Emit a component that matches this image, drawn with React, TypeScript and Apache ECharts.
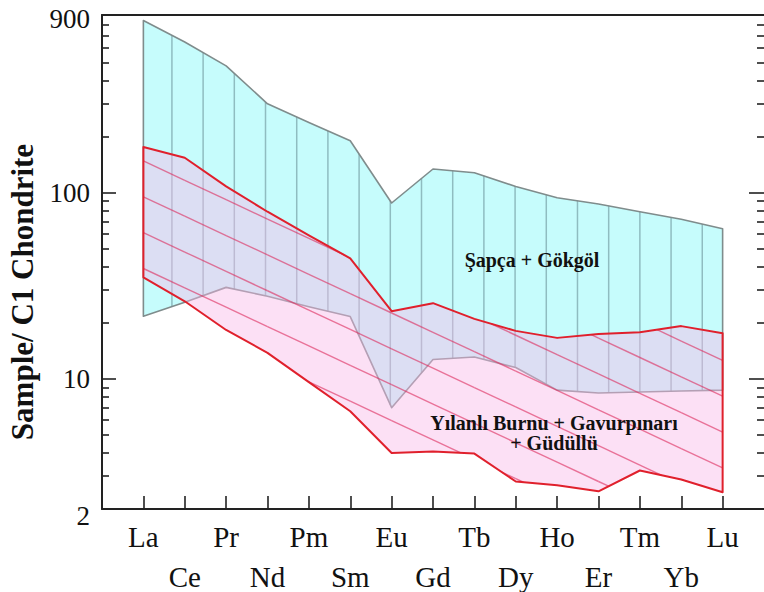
import React, { useEffect, useRef } from 'react';
import * as echarts from 'echarts';

// ---- data (chondrite-normalised REE envelopes) ----
const ELEMENTS = ['La', 'Ce', 'Pr', 'Nd', 'Pm', 'Sm', 'Eu', 'Gd', 'Tb', 'Dy', 'Ho', 'Er', 'Tm', 'Yb', 'Lu'];
const SAPCA_UPPER = [840, 645, 480, 300, 238, 190, 88, 134, 128, 108, 94, 87, 79, 72, 64];
const SAPCA_LOWER = [21.7, 25.8, 31, 27.8, 24.4, 21.6, 7.0, 12.7, 13.1, 11.5, 8.7, 8.4, 8.5, 8.6, 8.7];
const YILANLI_UPPER = [176, 154, 108, 79, 59, 44.4, 23.1, 25.5, 21.0, 18.1, 16.6, 17.4, 17.8, 19.2, 17.6];
const YILANLI_LOWER = [35.1, 26.1, 18.3, 13.8, 9.6, 6.7, 4.0, 4.07, 3.97, 2.81, 2.68, 2.49, 3.22, 2.88, 2.46];
const Y_LABELS = [2, 10, 100, 900];
const Y_MAJOR = [10, 100];
const Y_MINOR = [3, 4, 5, 6, 7, 8, 9, 20, 30, 40, 50, 60, 70, 80, 90, 200, 300, 400, 500, 600, 700, 800];
const X_TICKS = ELEMENTS.map((_, i) => i);

const FONT = 'Liberation Serif';

type Pt = number[];

function bandSeries(upper: number[], lower: number[], cfg: any) {
  return {
    type: 'custom',
    coordinateSystem: 'cartesian2d',
    xAxisIndex: 0,
    yAxisIndex: 0,
    silent: true,
    z: cfg.z,
    data: [[0, upper[0]]],
    renderItem: (params: any, api: any) => {
      const U: Pt[] = upper.map((v, i) => api.coord([i, v]));
      const L: Pt[] = lower.map((v, i) => api.coord([i, v]));
      const poly = [...U, ...L.slice().reverse()];
      const children: any[] = [];
      children.push({ type: 'polygon', shape: { points: poly }, style: { fill: cfg.fill }, z2: 0 });
      const n = U.length;
      if (cfg.hatch === 'vertical') {
        for (let u = cfg.vStart; u < n - 1; u += cfg.vStep) {
          const i = Math.floor(u);
          const t = u - i;
          const x = U[i][0] + t * (U[i + 1][0] - U[i][0]);
          const yU = U[i][1] + t * (U[i + 1][1] - U[i][1]);
          const yL = L[i][1] + t * (L[i + 1][1] - L[i][1]);
          children.push({
            type: 'line',
            shape: { x1: x, y1: yU, x2: x, y2: yL },
            style: { stroke: cfg.hatchColor, lineWidth: cfg.hatchWidth },
            z2: 1,
          });
        }
      } else if (cfg.hatch === 'diagonal') {
        const decPx = api.coord([0, 10])[1] - api.coord([0, 100])[1];
        const catPx = U[1][0] - U[0][0];
        const x0 = U[0][0];
        const anchorY = api.coord([0, cfg.dAnchor])[1];
        const slope = (cfg.dSlopeDec * decPx) / catPx;
        const spacing = cfg.dSpacingDec * decPx;
        for (let k = -25; k <= 25; k++) {
          const a = anchorY + k * spacing;
          const ly = (x: number) => a + slope * (x - x0);
          for (let i = 0; i < n - 1; i++) {
            const xa = U[i][0];
            const xb = U[i + 1][0];
            const la = ly(xa);
            const lb = ly(xb);
            let t0 = 0;
            let t1 = 1;
            const cons = (ga: number, gb: number) => {
              if (ga >= 0 && gb >= 0) return;
              if (ga < 0 && gb < 0) { t0 = 1; t1 = 0; return; }
              const ts = ga / (ga - gb);
              if (ga < 0) t0 = Math.max(t0, ts);
              else t1 = Math.min(t1, ts);
            };
            cons(la - U[i][1], lb - U[i + 1][1]);
            cons(L[i][1] - la, L[i + 1][1] - lb);
            if (t1 - t0 > 1e-6) {
              const xs = xa + t0 * (xb - xa);
              const xe = xa + t1 * (xb - xa);
              children.push({
                type: 'line',
                shape: { x1: xs, y1: ly(xs), x2: xe, y2: ly(xe) },
                style: { stroke: cfg.hatchColor, lineWidth: cfg.hatchWidth },
                z2: 1,
              });
            }
          }
        }
      }
      children.push({
        type: 'polygon',
        shape: { points: poly },
        style: { fill: 'none', stroke: cfg.stroke, lineWidth: cfg.strokeWidth, lineJoin: 'round' },
        z2: 2,
      });
      return { type: 'group', children };
    },
  };
}

function yAxisDef(position: string, ticks: number[], len: number, labels: boolean, line: boolean) {
  return {
    type: 'log',
    logBase: 10,
    min: 2,
    max: 900,
    position,
    axisLine: { show: line, onZero: false, lineStyle: { color: '#222', width: 2 } },
    axisTick: { show: true, inside: true, length: len, customValues: ticks, lineStyle: { color: '#222', width: 1.6 } },
    minorTick: { show: false },
    splitLine: { show: false },
    axisLabel: labels
      ? {
          show: true,
          customValues: Y_LABELS,
          margin: 12,
          formatter: (v: number) => {
            const r = Math.round(v);
            if (r === 2) return '{lo|2}';
            if (r === 900) return '{hi|900}';
            return String(r);
          },
          fontFamily: FONT,
          fontSize: 27,
          color: '#111',
          rich: {
            lo: { fontFamily: FONT, fontSize: 27, color: '#111', padding: [14, 0, 0, 0] },
            hi: { fontFamily: FONT, fontSize: 27, color: '#111', padding: [8, 0, 0, 0] },
          },
        }
      : { show: false },
  };
}

export default function App() {
  const ref = useRef<HTMLDivElement>(null);
  useEffect(() => {
    if (!ref.current) return;
    const chart = echarts.init(ref.current, undefined, { renderer: 'svg' });
    const option: any = {
      animation: false,
      backgroundColor: '#ffffff',
      grid: { left: 102, right: 0, top: 15, bottom: 83, containLabel: false, outerBoundsMode: 'none' },
      xAxis: [
        {
          type: 'value',
          min: -1,
          max: 15,
          position: 'bottom',
          axisLine: { show: true, onZero: false, lineStyle: { color: '#222', width: 2 } },
          axisTick: { show: true, inside: true, length: 13, customValues: X_TICKS, lineStyle: { color: '#222', width: 1.6 } },
          splitLine: { show: false },
          axisLabel: {
            show: true,
            customValues: X_TICKS,
            margin: 8,
            fontFamily: FONT,
            fontSize: 29,
            lineHeight: 40,
            color: '#111',
            formatter: (v: number) => {
              const i = Math.round(v);
              const name = ELEMENTS[i] ?? '';
              return i % 2 === 1 ? '\n' + name : name;
            },
          },
        },
        {
          type: 'value',
          min: -1,
          max: 15,
          position: 'top',
          axisLine: { show: true, onZero: false, lineStyle: { color: '#222', width: 2 } },
          axisTick: { show: false },
          axisLabel: { show: false },
          splitLine: { show: false },
        },
      ],
      yAxis: [
        yAxisDef('left', Y_MAJOR, 14, true, true),
        yAxisDef('left', Y_MINOR, 7, false, false),
        yAxisDef('right', Y_MAJOR, 15, false, false),
        yAxisDef('right', Y_MINOR, 7, false, false),
      ],
      series: [
        bandSeries(SAPCA_UPPER, SAPCA_LOWER, {
          z: 2,
          fill: '#c6fcfc',
          stroke: '#7f8c8c',
          strokeWidth: 1.6,
          hatch: 'vertical',
          hatchColor: '#8fbcc0',
          hatchWidth: 1.5,
          vStart: 0.69,
          vStep: 0.754,
        }),
        bandSeries(YILANLI_UPPER, YILANLI_LOWER, {
          z: 3,
          fill: 'rgba(248,185,232,0.44)',
          stroke: '#e0202c',
          strokeWidth: 2,
          hatch: 'diagonal',
          hatchColor: 'rgba(220,40,90,0.6)',
          hatchWidth: 1.4,
          dAnchor: 148,
          dSlopeDec: 0.104,
          dSpacingDec: 0.1925,
        }),
      ],
      graphic: [
        {
          type: 'text',
          x: 22,
          y: 292,
          rotation: Math.PI / 2,
          z: 10,
          style: {
            text: 'Sample/ C1 Chondrite',
            fontFamily: FONT,
            fontWeight: 'bold',
            fontSize: 31,
            fill: '#111',
            align: 'center',
            verticalAlign: 'middle',
          },
        },
        {
          type: 'text',
          x: 532,
          y: 260,
          z: 10,
          style: {
            text: 'Şapça + Gökgöl',
            fontFamily: FONT,
            fontWeight: 'bold',
            fontSize: 20,
            fill: '#111',
            align: 'center',
            verticalAlign: 'middle',
          },
        },
        {
          type: 'text',
          x: 554,
          y: 433,
          z: 10,
          style: {
            text: 'Yılanlı Burnu + Gavurpınarı\n+ Güdüllü',
            fontFamily: FONT,
            fontWeight: 'bold',
            fontSize: 20,
            lineHeight: 20,
            fill: '#111',
            align: 'center',
            verticalAlign: 'middle',
          },
        },
      ],
    };
    chart.setOption(option);
    return () => chart.dispose();
  }, []);
  return (
    <div
      ref={ref}
      style={{ position: 'fixed', left: 0, top: 0, width: 764, height: 592, background: '#fff' }}
    />
  );
}
